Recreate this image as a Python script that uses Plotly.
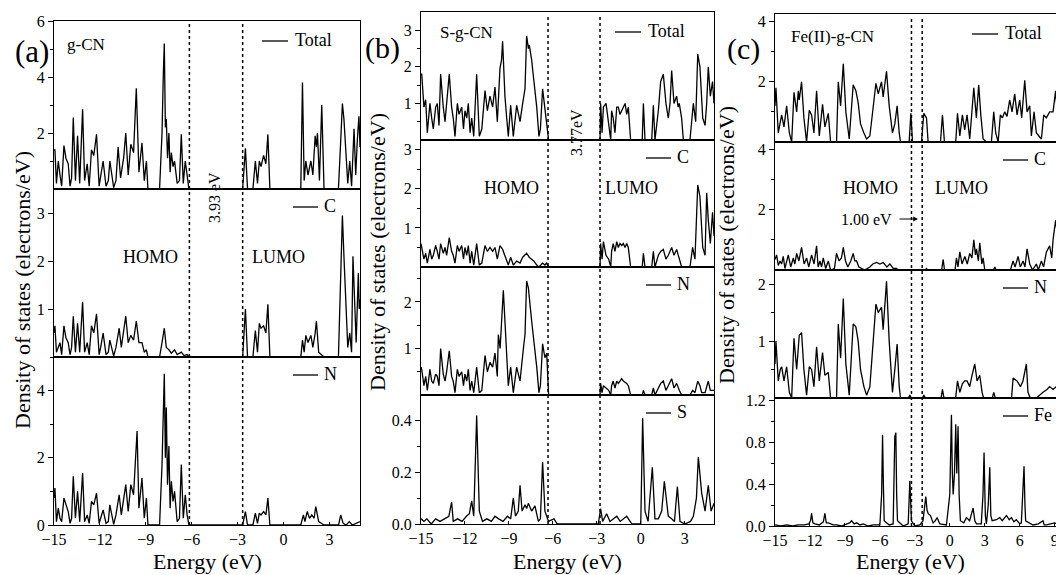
import plotly.graph_objects as go

# ------------------------------------------------------------------ data
energy_ticks_ab = [-15, -12, -9, -6, -3, 0, 3]
energy_ticks_c = [-15, -12, -9, -6, -3, 0, 3, 6, 9]
gap_a = [-6.15, -2.67]
gap_b = [-6.33, -2.78]
gap_c = [-3.29, -2.37]

# (a) g-CN   (energy eV, DOS electrons/eV)
a_total = [(-15.0,1.4),(-14.94,1.4),(-14.84,0.2),(-14.72,1.0),(-14.61,0.5),(-14.5,0.1),(-14.35,1.55),(-14.22,1.1),(-14.07,0.9),(-13.95,0.1),(-13.85,0.4),(-13.74,2.55),(-13.6,0.3),(-13.46,1.9),(-13.32,0.2),(-13.13,2.85),(-13.0,0.3),(-12.83,0.9),(-12.7,0.1),(-12.55,1.4),(-12.4,1.2),(-12.22,1.95),(-12.05,0.1),(-11.95,0.4),(-11.79,1.0),(-11.6,0.1),(-11.45,0.3),(-11.35,1.0),(-11.1,0.05),(-10.95,0.3),(-10.81,1.5),(-10.65,0.4),(-10.45,1.1),(-10.31,2.0),(-10.15,0.5),(-9.98,1.6),(-9.8,1.3),(-9.62,3.6),(-9.45,0.6),(-9.25,1.65),(-9.1,0.3),(-8.96,1.0),(-8.86,0.0),(-8.10,0.0),(-7.94,2.0),(-7.85,4.2),(-7.79,5.2),(-7.72,2.2),(-7.66,2.5),(-7.58,1.1),(-7.49,2.0),(-7.41,0.6),(-7.33,1.3),(-7.22,0.8),(-7.12,1.0),(-6.95,0.2),(-6.8,0.3),(-6.68,1.95),(-6.55,0.2),(-6.42,1.0),(-6.3,0.4),(-6.18,0.0),
           (-2.67,0.0),(-2.49,1.45),(-2.35,0.0),(-2.0,0.0),(-1.84,1.0),(-1.7,0.2),(-1.58,1.0),(-1.47,0.8),(-1.30,1.2),(-1.15,0.9),(-1.02,1.95),(-0.89,0.0),
           (1.13,0.0),(1.24,3.8),(1.35,0.3),(1.46,1.0),(1.6,0.5),(1.79,1.0),(1.92,0.5),(2.07,1.9),(2.15,1.5),(2.22,2.0),(2.35,0.3),(2.50,3.0),(2.65,0.0),
           (3.59,0.0),(3.72,1.5),(3.85,3.05),(3.95,2.5),(4.07,1.5),(4.2,0.2),(4.33,1.0),(4.45,0.1),(4.61,2.15),(4.72,0.5),(4.83,1.8),(4.93,2.6),(5.0,1.5)]
a_C = [(-15.0,0.5),(-14.94,0.65),(-14.84,0.1),(-14.72,0.2),(-14.61,0.3),(-14.5,0.05),(-14.35,0.65),(-14.22,0.4),(-14.07,0.3),(-13.95,0.05),(-13.85,0.2),(-13.74,0.85),(-13.6,0.1),(-13.46,0.7),(-13.32,0.1),(-13.13,1.15),(-13.0,0.1),(-12.83,0.3),(-12.7,0.05),(-12.55,0.65),(-12.4,0.5),(-12.22,0.9),(-12.05,0.05),(-11.95,0.2),(-11.79,0.5),(-11.6,0.05),(-11.45,0.1),(-11.35,0.35),(-11.1,0.02),(-10.95,0.2),(-10.74,0.6),(-10.6,0.2),(-10.45,0.5),(-10.31,0.85),(-10.15,0.3),(-9.98,0.45),(-9.8,0.35),(-9.62,0.75),(-9.45,0.3),(-9.25,0.3),(-9.1,0.1),(-8.96,0.15),(-8.86,0.0),(-8.10,0.0),(-7.94,0.3),(-7.79,0.6),(-7.66,0.2),(-7.49,0.15),(-7.33,0.08),(-7.12,0.15),(-6.95,0.05),(-6.68,0.1),(-6.5,0.03),(-6.3,0.05),(-6.18,0.0),
       (-2.67,0.0),(-2.49,1.0),(-2.35,0.0),(-2.0,0.0),(-1.84,0.55),(-1.7,0.1),(-1.58,0.7),(-1.47,0.6),(-1.30,0.65),(-1.15,0.5),(-1.02,1.1),(-0.89,0.0),
       (1.13,0.0),(1.24,0.35),(1.35,0.1),(1.46,0.45),(1.6,0.3),(1.79,0.45),(1.92,0.2),(2.07,0.5),(2.15,0.75),(2.3,0.1),(2.5,0.05),(2.65,0.0),
       (3.59,0.0),(3.72,1.5),(3.85,2.95),(3.95,2.1),(4.07,1.0),(4.2,0.2),(4.33,0.5),(4.45,0.1),(4.54,2.1),(4.65,1.0),(4.75,0.3),(4.89,1.75),(4.95,1.0),(5.0,1.2)]
a_N = [(-15.0,0.8),(-14.94,1.1),(-14.84,0.1),(-14.72,0.5),(-14.61,0.2),(-14.5,0.1),(-14.35,0.8),(-14.22,0.6),(-14.07,0.4),(-13.95,0.05),(-13.85,0.2),(-13.74,1.45),(-13.6,0.2),(-13.46,1.0),(-13.32,0.1),(-13.13,1.55),(-13.0,0.1),(-12.83,0.3),(-12.7,0.05),(-12.55,0.7),(-12.4,0.6),(-12.22,0.95),(-12.05,0.05),(-11.95,0.2),(-11.79,0.45),(-11.6,0.05),(-11.45,0.1),(-11.35,0.6),(-11.1,0.02),(-10.95,0.3),(-10.74,0.9),(-10.6,0.3),(-10.45,0.8),(-10.31,1.2),(-10.15,0.4),(-9.98,1.2),(-9.8,0.9),(-9.57,2.8),(-9.45,0.5),(-9.25,1.4),(-9.1,0.2),(-8.96,0.8),(-8.86,0.0),(-8.10,0.0),(-7.94,1.8),(-7.85,3.6),(-7.79,4.5),(-7.72,2.0),(-7.66,3.5),(-7.58,1.2),(-7.49,2.35),(-7.41,0.5),(-7.33,1.3),(-7.22,0.7),(-7.12,1.0),(-6.95,0.1),(-6.8,0.2),(-6.68,1.8),(-6.55,0.2),(-6.42,0.9),(-6.3,0.3),(-6.18,0.0),
       (-2.67,0.0),(-2.49,0.4),(-2.35,0.0),(-2.0,0.0),(-1.84,0.35),(-1.7,0.05),(-1.58,0.35),(-1.47,0.3),(-1.30,0.4),(-1.15,0.3),(-1.02,0.8),(-0.89,0.0),
       (1.13,0.0),(1.3,0.3),(1.4,0.1),(1.55,0.4),(1.7,0.2),(1.85,0.3),(2.0,0.2),(2.11,0.55),(2.3,0.1),(2.65,0.0),
       (3.6,0.0),(3.74,0.3),(3.9,0.05),(4.1,0.0),(4.3,0.1),(4.5,0.0),(4.8,0.05),(5.0,0.1)]

# (b) S-g-CN
b_total = [(-15.0,1.8),(-14.95,1.8),(-14.8,0.9),(-14.68,1.1),(-14.57,0.2),(-14.39,1.0),(-14.27,0.6),(-14.16,0.3),(-14.0,0.9),(-13.89,1.0),(-13.77,0.4),(-13.66,1.8),(-13.48,0.9),(-13.36,0.5),(-13.25,1.0),(-13.07,1.8),(-12.91,0.9),(-12.8,0.6),(-12.68,0.1),(-12.52,1.0),(-12.4,0.7),(-12.22,0.9),(-12.1,0.3),(-12.0,0.8),(-11.88,0.6),(-11.77,1.0),(-11.65,0.2),(-11.54,0.6),(-11.4,0.1),(-11.2,1.8),(-11.02,0.1),(-10.85,0.3),(-10.63,1.35),(-10.47,0.8),(-10.29,1.2),(-10.11,0.9),(-9.95,1.45),(-9.79,0.5),(-9.61,1.95),(-9.5,2.2),(-9.43,2.7),(-9.27,1.2),(-9.15,0.6),(-9.04,0.1),(-8.88,0.95),(-8.7,0.1),(-8.47,0.95),(-8.24,0.5),(-8.06,1.0),(-7.9,1.4),(-7.79,2.85),(-7.67,2.5),(-7.61,2.6),(-7.45,2.2),(-7.29,1.6),(-7.1,0.9),(-6.95,0.1),(-6.85,0.3),(-6.7,1.4),(-6.54,0.8),(-6.42,0.5),(-6.29,0.0),
           (-2.78,0.0),(-2.74,1.0),(-2.64,0.2),(-2.55,0.9),(-2.37,1.0),(-2.19,0.4),(-2.05,0.0),(-1.99,0.8),(-1.88,0.6),(-1.76,0.2),(-1.64,0.9),(-1.53,0.9),(-1.42,0.7),(-1.30,0.8),(-1.19,0.9),(-1.07,1.0),(-0.96,0.7),(-0.85,0.9),(-0.69,0.0),
           (0.1,0.0),(0.18,1.0),(0.29,0.0),(0.75,0.0),(0.86,0.95),(0.97,0.0),(1.2,0.8),(1.36,1.6),(1.54,1.8),(1.72,1.0),(1.88,0.6),(2.0,1.0),(2.11,1.9),(2.27,1.0),(2.45,1.2),(2.55,0.9),(2.63,1.0),(2.79,0.6),(2.91,0.0),
           (3.36,0.0),(3.59,1.0),(3.75,0.5),(3.89,2.35),(4.04,2.0),(4.16,1.0),(4.23,0.6),(4.39,0.4),(4.5,1.0),(4.61,2.0),(4.75,1.2),(4.9,1.6),(5.0,1.0)]
b_C = [(-15.0,0.6),(-14.95,0.5),(-14.8,0.2),(-14.68,0.35),(-14.57,0.1),(-14.39,0.45),(-14.27,0.2),(-14.16,0.3),(-14.0,0.55),(-13.89,0.4),(-13.77,0.2),(-13.66,0.6),(-13.48,0.35),(-13.36,0.5),(-13.25,0.3),(-13.07,0.75),(-12.91,0.4),(-12.8,0.3),(-12.68,0.1),(-12.52,0.55),(-12.4,0.4),(-12.22,0.55),(-12.1,0.2),(-12.0,0.5),(-11.88,0.3),(-11.77,0.55),(-11.65,0.1),(-11.54,0.4),(-11.4,0.05),(-11.2,0.6),(-11.02,0.05),(-10.85,0.1),(-10.63,0.55),(-10.47,0.4),(-10.29,0.5),(-10.11,0.4),(-9.95,0.5),(-9.79,0.2),(-9.61,0.55),(-9.43,0.45),(-9.27,0.3),(-9.04,0.05),(-8.88,0.25),(-8.7,0.05),(-8.47,0.15),(-8.24,0.1),(-8.06,0.25),(-7.9,0.3),(-7.79,0.35),(-7.61,0.25),(-7.45,0.2),(-7.29,0.15),(-7.1,0.05),(-6.95,0.0),(-6.7,0.1),(-6.54,0.05),(-6.42,0.1),(-6.29,0.0),
       (-2.78,0.0),(-2.74,0.6),(-2.64,0.2),(-2.55,0.65),(-2.37,0.3),(-2.19,0.2),(-2.05,0.0),(-1.99,0.4),(-1.88,0.6),(-1.76,0.4),(-1.64,0.65),(-1.53,0.5),(-1.42,0.6),(-1.30,0.55),(-1.19,0.6),(-1.07,0.5),(-0.96,0.6),(-0.85,0.5),(-0.69,0.0),
       (0.1,0.0),(0.18,0.35),(0.29,0.0),(0.75,0.0),(0.86,0.4),(0.97,0.0),(1.2,0.3),(1.36,0.4),(1.54,0.45),(1.72,0.2),(1.88,0.3),(2.11,0.5),(2.27,0.3),(2.45,0.45),(2.63,0.2),(2.79,0.0),
       (3.36,0.0),(3.54,0.5),(3.7,0.2),(3.89,2.1),(4.04,1.8),(4.16,1.0),(4.23,0.5),(4.39,0.3),(4.5,1.9),(4.61,1.2),(4.75,0.6),(4.9,1.4),(5.0,0.8)]
b_N = [(-15.0,0.6),(-14.95,0.55),(-14.8,0.2),(-14.68,0.4),(-14.57,0.1),(-14.39,0.55),(-14.27,0.3),(-14.16,0.25),(-14.0,0.45),(-13.89,0.4),(-13.77,0.2),(-13.66,1.0),(-13.48,0.45),(-13.36,0.3),(-13.25,0.5),(-13.07,0.95),(-12.91,0.4),(-12.8,0.3),(-12.68,0.05),(-12.52,0.55),(-12.4,0.4),(-12.22,0.5),(-12.1,0.2),(-12.0,0.45),(-11.88,0.3),(-11.77,0.55),(-11.65,0.1),(-11.54,0.3),(-11.4,0.05),(-11.2,0.6),(-11.02,0.05),(-10.85,0.1),(-10.63,0.85),(-10.47,0.5),(-10.29,0.7),(-10.11,0.6),(-9.95,0.9),(-9.79,0.4),(-9.72,1.3),(-9.6,1.0),(-9.38,2.25),(-9.2,1.2),(-9.04,0.2),(-8.88,0.6),(-8.7,0.05),(-8.47,0.6),(-8.24,0.3),(-8.01,1.0),(-7.9,1.3),(-7.79,2.45),(-7.67,2.3),(-7.45,1.6),(-7.29,1.2),(-7.1,0.6),(-6.95,0.05),(-6.85,0.2),(-6.7,1.1),(-6.54,0.8),(-6.42,0.9),(-6.29,0.0),
       (-2.78,0.0),(-2.74,0.25),(-2.64,0.05),(-2.55,0.2),(-2.37,0.15),(-2.19,0.1),(-2.05,0.0),(-1.99,0.2),(-1.88,0.3),(-1.76,0.15),(-1.64,0.3),(-1.53,0.25),(-1.30,0.35),(-1.19,0.3),(-0.96,0.25),(-0.85,0.2),(-0.69,0.0),
       (0.1,0.0),(0.18,0.1),(0.29,0.0),(0.75,0.0),(0.86,0.15),(0.97,0.0),(1.2,0.15),(1.36,0.25),(1.54,0.3),(1.72,0.1),(1.88,0.2),(2.11,0.35),(2.27,0.15),(2.45,0.25),(2.63,0.1),(2.79,0.0),
       (3.36,0.0),(3.54,0.1),(3.7,0.05),(3.89,0.3),(4.04,0.2),(4.16,0.05),(4.39,0.05),(4.61,0.3),(4.75,0.1),(5.0,0.1)]
b_S = [(-15.0,0.02),(-14.8,0.01),(-14.6,0.02),(-14.3,0.0),(-14.0,0.02),(-13.7,0.01),(-13.4,0.02),(-13.1,0.03),(-12.91,0.085),(-12.8,0.01),(-12.5,0.02),(-12.2,0.01),(-11.9,0.03),(-11.7,0.04),(-11.54,0.09),(-11.4,0.03),(-11.2,0.42),(-11.02,0.05),(-10.8,0.01),(-10.5,0.02),(-10.2,0.01),(-9.95,0.03),(-9.7,0.02),(-9.4,0.01),(-9.1,0.03),(-8.88,0.02),(-8.7,0.1),(-8.55,0.03),(-8.36,0.05),(-8.24,0.15),(-8.1,0.05),(-7.9,0.075),(-7.79,0.06),(-7.67,0.08),(-7.45,0.05),(-7.22,0.07),(-6.99,0.01),(-6.85,0.02),(-6.7,0.24),(-6.54,0.05),(-6.3,0.01),(-5.92,0.02),(-5.7,0.0),
       (-2.9,0.0),(-2.74,0.06),(-2.6,0.01),(-2.33,0.04),(-2.1,0.01),(-1.64,0.03),(-1.4,0.01),(-0.96,0.03),(-0.6,0.0),
       (0.0,0.0),(0.13,0.41),(0.29,0.05),(0.5,0.01),(0.79,0.22),(0.97,0.02),(1.2,0.02),(1.43,0.05),(1.61,0.165),(1.88,0.03),(2.11,0.02),(2.3,0.01),(2.5,0.145),(2.68,0.01),(3.0,0.0),(3.4,0.01),(3.59,0.03),(3.8,0.1),(3.93,0.26),(4.16,0.12),(4.39,0.05),(4.61,0.15),(4.8,0.05),(5.0,0.08)]

# (c) Fe(II)-g-CN
c_total = [(-15.0,1.2),(-14.92,1.8),(-14.72,0.3),(-14.55,0.6),(-14.43,0.9),(-14.23,0.5),(-14.0,1.2),(-13.77,0.3),(-13.57,0.0),(-13.37,1.65),(-13.14,1.0),(-13.0,1.7),(-12.92,1.4),(-12.72,2.0),(-12.52,0.8),(-12.29,0.0),(-12.06,1.05),(-11.86,0.9),(-11.66,0.3),(-11.43,1.7),(-11.2,0.2),(-10.92,1.25),(-10.72,0.5),(-10.43,0.95),(-10.23,0.0),(-9.72,0.0),(-9.57,2.0),(-9.37,1.2),(-9.14,2.6),(-8.92,1.0),(-8.63,0.1),(-8.29,1.9),(-8.06,1.7),(-7.86,1.3),(-7.66,0.6),(-7.37,0.3),(-7.14,0.1),(-6.86,0.2),(-6.57,1.3),(-6.34,1.95),(-6.14,1.6),(-5.86,2.0),(-5.72,1.5),(-5.43,2.35),(-5.2,1.2),(-4.92,0.3),(-4.72,0.6),(-4.52,1.2),(-4.34,0.3),(-4.23,0.0),
           (-3.49,0.0),(-3.34,0.95),(-3.2,0.0),(-2.43,0.0),(-2.23,0.95),(-2.0,0.8),(-1.86,0.0),(-0.8,0.0),(-0.63,0.9),(-0.46,0.0),(0.51,0.0),(0.66,0.95),(0.86,0.2),(1.08,0.9),(1.28,0.4),(1.48,0.9),(1.71,0.1),(1.91,1.0),(2.06,1.8),(2.28,0.8),(2.48,1.9),(2.66,0.9),(2.86,0.1),(3.14,0.0),(3.57,0.0),(3.77,1.0),(3.94,0.3),(4.15,0.0),(4.34,0.9),(4.51,0.8),(4.71,1.0),(4.91,0.85),(5.14,1.4),(5.34,1.0),(5.57,1.6),(5.77,0.9),(6.0,1.4),(6.17,0.8),(6.43,2.05),(6.63,1.0),(6.86,1.2),(7.0,0.2),(7.23,1.0),(7.43,0.3),(7.86,0.1),(8.06,0.9),(8.28,0.8),(8.57,1.0),(8.86,1.0),(9.08,1.7),(9.28,0.7),(9.48,0.9),(9.71,1.0),(9.8,0.8)]
c_C = [(-15.0,0.35),(-14.86,0.5),(-14.72,0.15),(-14.57,0.3),(-14.43,0.2),(-14.29,0.45),(-14.15,0.05),(-14.06,0.2),(-13.86,0.5),(-13.65,0.1),(-13.43,0.4),(-13.3,0.2),(-13.14,0.55),(-12.95,0.3),(-12.72,0.75),(-12.5,0.2),(-12.29,0.4),(-12.1,0.1),(-11.86,0.5),(-11.65,0.2),(-11.43,0.8),(-11.3,0.1),(-11.14,0.3),(-11.0,0.1),(-10.86,0.4),(-10.65,0.05),(-10.43,0.3),(-10.23,0.0),(-9.9,0.05),(-9.72,0.55),(-9.5,0.3),(-9.3,0.4),(-9.14,0.75),(-8.95,0.3),(-8.75,0.1),(-8.5,0.3),(-8.29,0.55),(-8.15,0.3),(-8.0,0.3),(-7.8,0.1),(-7.57,0.05),(-7.3,0.0),(-6.86,0.1),(-6.6,0.2),(-6.29,0.25),(-6.0,0.2),(-5.71,0.25),(-5.4,0.1),(-5.14,0.2),(-4.85,0.05),(-4.57,0.05),(-4.43,0.0),
       (-2.1,0.0),(-2.0,0.05),(-1.9,0.0),(-0.7,0.0),(-0.57,0.35),(-0.45,0.0),(0.45,0.0),(0.57,0.4),(0.7,0.1),(0.86,0.6),(1.05,0.2),(1.29,0.45),(1.5,0.2),(1.71,0.55),(1.9,0.4),(2.06,1.0),(2.2,0.5),(2.29,0.7),(2.45,0.3),(2.57,0.9),(2.75,0.2),(2.86,0.4),(3.0,0.0),(3.75,0.0),(3.86,0.1),(3.97,0.0),(5.2,0.0),(5.43,0.3),(5.6,0.1),(5.86,0.45),(6.05,0.1),(6.29,0.3),(6.45,0.1),(6.63,0.7),(6.86,0.2),(7.1,0.0),(7.43,0.2),(7.6,0.0),(7.86,0.3),(8.05,0.1),(8.29,0.6),(8.57,0.8),(8.75,0.4),(8.86,1.0),(9.08,1.65),(9.29,0.9),(9.45,0.5),(9.57,1.2),(9.8,0.8)]
c_N = [(-15.0,0.6),(-14.92,1.0),(-14.72,0.3),(-14.55,0.5),(-14.43,0.55),(-14.23,0.3),(-14.0,0.55),(-13.77,0.1),(-13.57,0.0),(-13.37,1.05),(-13.14,0.5),(-13.0,0.9),(-12.92,1.1),(-12.72,1.15),(-12.52,0.5),(-12.29,0.05),(-12.06,0.55),(-11.86,0.5),(-11.66,0.2),(-11.43,0.9),(-11.2,0.3),(-10.92,0.8),(-10.72,0.4),(-10.43,0.45),(-10.23,0.0),(-9.72,0.0),(-9.57,1.3),(-9.37,0.7),(-9.14,1.75),(-8.92,0.6),(-8.63,0.05),(-8.29,1.3),(-8.06,1.25),(-7.86,1.0),(-7.66,0.5),(-7.37,0.2),(-7.14,0.05),(-6.86,0.2),(-6.57,1.0),(-6.34,1.65),(-6.14,1.5),(-5.86,1.6),(-5.72,1.2),(-5.43,2.05),(-5.2,1.0),(-4.92,0.1),(-4.72,0.5),(-4.52,0.95),(-4.34,0.2),(-4.23,0.0),
       (-3.55,0.0),(-3.43,0.05),(-3.3,0.0),(-2.35,0.0),(-2.23,0.05),(-2.1,0.0),(-0.75,0.0),(-0.63,0.15),(-0.5,0.0),(0.5,0.0),(0.66,0.3),(0.86,0.1),(1.08,0.25),(1.28,0.3),(1.48,0.3),(1.71,0.2),(1.91,0.4),(2.14,0.6),(2.34,0.3),(2.57,0.4),(2.77,0.1),(2.9,0.0),(3.65,0.0),(3.77,0.1),(3.9,0.0),(5.3,0.0),(5.43,0.35),(5.77,0.3),(6.06,0.2),(6.28,0.3),(6.57,0.6),(6.71,0.1),(6.9,0.0),(7.43,0.0),(8.0,0.1),(8.34,0.15),(8.57,0.2),(8.86,0.15),(9.14,0.2),(9.5,0.1),(9.8,0.1)]
c_Fe = [(-15.0,0.01),(-14.5,0.0),(-14.0,0.01),(-13.5,0.0),(-13.0,0.01),(-12.5,0.01),(-12.1,0.02),(-11.95,0.05),(-11.86,0.12),(-11.75,0.03),(-11.57,0.02),(-11.2,0.01),(-10.85,0.04),(-10.72,0.12),(-10.6,0.03),(-10.43,0.03),(-10.0,0.01),(-9.72,0.01),(-9.3,0.0),(-8.9,0.02),(-8.6,0.03),(-8.43,0.05),(-8.2,0.02),(-8.0,0.03),(-7.7,0.01),(-7.43,0.02),(-7.0,0.0),(-6.57,0.01),(-6.0,0.01),(-5.85,0.3),(-5.77,0.87),(-5.7,0.4),(-5.63,0.05),(-5.2,0.01),(-4.86,0.02),(-4.72,0.85),(-4.63,0.89),(-4.56,0.3),(-4.49,0.05),(-4.0,0.0),(-3.57,0.02),(-3.43,0.43),(-3.35,0.1),(-3.29,0.05),(-3.0,0.0),(-2.57,0.01),(-2.3,0.05),(-2.06,0.28),(-1.95,0.15),(-1.86,0.12),(-1.66,0.1),(-1.43,0.03),(-1.25,0.05),(-1.09,0.08),(-0.86,0.02),(-0.29,0.01),(0.0,0.3),(0.06,0.85),(0.14,1.06),(0.22,0.5),(0.29,0.3),(0.4,0.5),(0.51,0.97),(0.6,0.5),(0.71,0.95),(0.8,0.3),(0.91,0.05),(1.2,0.03),(1.43,0.08),(1.7,0.05),(2.0,0.17),(2.15,0.05),(2.29,0.02),(2.7,0.02),(2.85,0.3),(2.94,0.7),(3.05,0.1),(3.14,0.02),(3.3,0.2),(3.43,0.56),(3.52,0.1),(3.63,0.05),(4.0,0.06),(4.29,0.08),(4.5,0.05),(4.86,0.1),(5.1,0.06),(5.29,0.08),(5.5,0.04),(5.71,0.06),(6.0,0.02),(6.14,0.03),(6.29,0.4),(6.37,0.57),(6.45,0.2),(6.51,0.05),(7.14,0.01),(7.6,0.02),(8.0,0.05),(8.1,0.01),(8.29,0.01),(9.0,0.03),(9.4,0.01),(9.8,0.02)]

# ------------------------------------------------------------------ layout helpers
# the page puts the figure 8 px in from the top-left corner of the window,
# so the figure is 8 px smaller and all window positions are shifted by 8 px
OFF = 8
W, H = 1064 - OFF, 575 - OFF
FONT = "Liberation Serif"
px = lambda x: (x - OFF) / W
py = lambda y: 1 - (y - OFF) / H

# subplot: (data, label, y pixel top, y pixel bottom, yrange, tickvals, minor tickvals, fmt)
panels = [
    dict(x0=54, x1=360, lx=360, xr=[-15, 5], ticks=energy_ticks_ab, gap=gap_a, subs=[
        (a_total, "Total", 21, 189, [0, 6], [2, 4, 6], [1, 3, 5], None),
        (a_C, "C", 189, 357, [0, 3.5], [1, 2, 3], [], None),
        (a_N, "N", 357, 525, [0, 5], [0, 2, 4], [1, 3, 5], None)]),
    dict(x0=421, x1=714, lx=713, xr=[-15, 5], ticks=energy_ticks_ab, gap=gap_b, subs=[
        (b_total, "Total", 12, 140, [0, 3.5], [1, 2, 3], [0.5, 1.5, 2.5], None),
        (b_C, "C", 140, 267, [0, 3.25], [1, 2, 3], [0.5, 1.5, 2.5], None),
        (b_N, "N", 267, 395, [0, 2.75], [1, 2], [0.5, 1.5, 2.5], None),
        (b_S, "S", 395, 524, [0, 0.5], [0, 0.2, 0.4], [0.1, 0.3], ".1f")]),
    dict(x0=775, x1=1064, lx=1070, xr=[-15, 9.8], ticks=energy_ticks_c, gap=gap_c, subs=[
        (c_total, "Total", 14, 142, [0, 4.25], [2, 4], [1, 3], None),
        (c_C, "C", 142, 270, [0, 4.25], [2, 4], [1, 3], None),
        (c_N, "N", 270, 398, [0, 2.25], [1, 2], [0.5, 1.5], None),
        (c_Fe, "Fe", 398, 526, [0, 1.22], [0, 0.4, 0.8, 1.2], [0.2, 0.6, 1.0], ".1f")]),
]

fig = go.Figure()
layout = {}
shapes = []
annotations = []
idx = 0
for p in panels:
    first_ax = None
    for k, (data, lab, yt, yb, yr, tv, mv, fmt) in enumerate(p["subs"]):
        idx += 1
        sfx = "" if idx == 1 else str(idx)
        bottom = k == len(p["subs"]) - 1
        E = [e for e, d in data]
        D = [d for e, d in data]
        fig.add_trace(go.Scatter(x=E, y=D, mode="lines", xaxis="x" + sfx, yaxis="y" + sfx,
                                 line=dict(color="black", width=1.3), showlegend=False,
                                 hoverinfo="skip"))
        layout["xaxis" + sfx] = dict(
            domain=[px(p["x0"]), min(px(p["x1"]), 1.0)], range=p["xr"], anchor="y" + sfx,
            automargin=False,
            showline=True, linecolor="black", linewidth=1.3, mirror=True,
            showgrid=False, zeroline=False,
            tickvals=p["ticks"] if bottom else [], showticklabels=bottom,
            ticks="inside" if bottom else "", ticklen=3, tickcolor="black",
            tickfont=dict(family=FONT, size=16, color="black"))
        layout["yaxis" + sfx] = dict(
            domain=[py(yb), py(yt)], range=yr, anchor="x" + sfx,
            automargin=False,
            showline=True, linecolor="black", linewidth=1.3, mirror=True,
            showgrid=False, zeroline=False, tickvals=tv,
            ticks="outside", ticklen=5, tickcolor="black", tickformat=fmt,
            tickfont=dict(family=FONT, size=16, color="black"),
            minor=dict(tickvals=mv, ticks="outside", ticklen=3, tickcolor="black"))
        # legend-like short line + element label
        lx = p["lx"]
        if k == 0:
            ly = yt + 20
            l0, l1, tx = lx - 98, lx - 72, lx - 67
        else:
            ly = yt + 18
            l0, l1, tx = lx - 67, lx - 42, lx - 38
        shapes.append(dict(type="line", xref="paper", yref="paper",
                           x0=px(l0), x1=px(l1), y0=py(ly), y1=py(ly),
                           line=dict(color="black", width=1.3)))
        annotations.append(dict(text=lab, xref="paper", yref="paper", x=px(tx), y=py(ly - 1),
                                xanchor="left", yanchor="middle", showarrow=False,
                                font=dict(family=FONT, size=18, color="black")))
        if first_ax is None:
            first_ax = "x" + sfx
    top = p["subs"][0][2]
    bot = p["subs"][-1][3]
    for g in p["gap"]:
        shapes.append(dict(type="line", xref=first_ax, yref="paper", x0=g, x1=g,
                           y0=py(bot), y1=py(top + 3),
                           line=dict(color="black", width=1.5, dash="dot")))

layout["shapes"] = shapes


def txt(t, x, y, size, angle=0, anchor="center"):
    annotations.append(dict(text=t, xref="paper", yref="paper", x=px(x), y=py(y),
                            xanchor=anchor, yanchor="middle", showarrow=False, textangle=angle,
                            font=dict(family=FONT, size=size, color="black")))


txt("(a)", 32, 51, 31)
txt("g-CN", 86, 44, 17)
txt("(b)", 382, 48, 30)
txt("S-g-CN", 466, 32, 17)
txt("(c)", 743, 49, 30)
txt("Fe(II)-g-CN", 832, 36, 17)
txt("3.93 eV", 214, 198, 16, -90)
txt("3.77eV", 577, 133, 16, -90)
txt("HOMO", 150, 257, 18)
txt("LUMO", 278, 257, 18)
txt("HOMO", 511, 188, 18)
txt("LUMO", 631, 188, 18)
txt("HOMO", 870, 188, 18)
txt("LUMO", 961, 188, 18)
txt("1.00 eV", 866, 219, 16)
annotations.append(dict(text="", xref="paper", yref="paper", x=px(918), y=py(219),
                        ax=-20, ay=0, showarrow=True, arrowhead=2, arrowsize=0.8,
                        arrowwidth=1.2, arrowcolor="black"))
for xc in (207, 567, 910):
    txt("Energy (eV)", xc, 561, 22)
for xc, yc in ((22, 290), (377, 252), (727, 245)):
    txt("Density of states (electrons/eV)", xc, yc, 22, -90)

layout["annotations"] = annotations
fig.update_layout(width=W, height=H, margin=dict(l=0, r=0, t=0, b=0, autoexpand=False),
                  paper_bgcolor="white", plot_bgcolor="white", showlegend=False,
                  font=dict(family=FONT, color="black"), **layout)
fig.write_html("out.html")
